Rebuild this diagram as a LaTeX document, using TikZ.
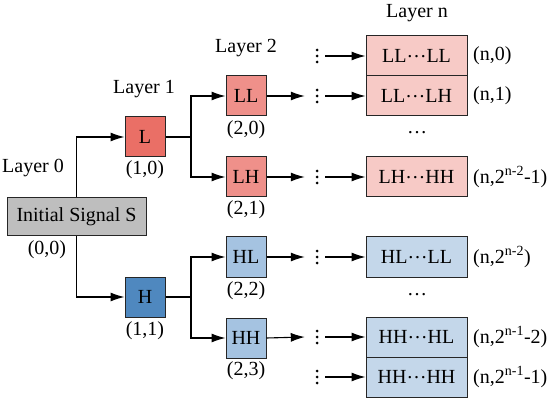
\documentclass[tikz,border=0pt]{standalone}
\usepackage{fontspec}
\setmainfont{Liberation Serif}
\usetikzlibrary{arrows.meta}
\definecolor{redD}{HTML}{EA6F66}
\definecolor{redM}{HTML}{EF908A}
\definecolor{redL}{HTML}{F7CAC6}
\definecolor{bluD}{HTML}{4F88BF}
\definecolor{bluM}{HTML}{A5C3E1}
\definecolor{bluL}{HTML}{C4D7EA}
\definecolor{grayS}{HTML}{BEBEBE}
\begin{document}
\begin{tikzpicture}[x=1pt,y=-1pt,
  font=\fontsize{20}{23}\selectfont,
  box/.style={draw=black!85, line width=1pt, inner sep=0pt, minimum width=40pt, minimum height=40pt},
  boxn/.style={box, minimum width=101pt},
  arr/.style={line width=1.1pt, -{Latex[length=14pt,width=9pt]}},
  ln/.style={line width=1.1pt},
  lbl/.style={inner sep=0pt},
  vdot/.style={minimum width=20pt, minimum height=18pt, inner sep=0pt,
    path picture={\foreach \dy in {-6,0,6} \fill ([xshift=2pt,yshift=\dy pt]path picture bounding box.center) circle (1.5pt);}}
]
\useasboundingbox (0,0) rectangle (550,404);

% boxes
\node[box, minimum width=139pt, minimum height=38pt, fill=grayS] (S) at (76.5,217) {Initial Signal S};
\node[box, fill=redD] (L) at (145,137) {L};
\node[box, fill=bluD] (H) at (145,297) {H};
\node[box, fill=redM] (LL) at (246,96) {LL};
\node[box, fill=redM] (LH) at (246,177) {LH};
\node[box, fill=bluM] (HL) at (246,257) {HL};
\node[box, fill=bluM] (HH) at (246,338) {HH};

\node[boxn, fill=redL] (n0) at (416.5,56) {LL\raisebox{0.25em}{…}LL};
\node[boxn, fill=redL] (n1) at (416.5,96) {LL\raisebox{0.25em}{…}LH};
\node[boxn, fill=redL] (nA) at (416.5,177) {LH\raisebox{0.25em}{…}HH};
\node[boxn, fill=bluL] (nB) at (416.5,257) {HL\raisebox{0.25em}{…}LL};
\node[boxn, fill=bluL] (nC) at (416.5,337) {HH\raisebox{0.25em}{…}HL};
\node[boxn, fill=bluL] (nD) at (416.5,377) {HH\raisebox{0.25em}{…}HH};

% vertical dots
\node[vdot] (v0) at (315,56) {};
\node[vdot] (v1) at (315,96) {};
\node[vdot] (v2) at (315,177) {};
\node[vdot] (v3) at (315,257) {};
\node[vdot] (v4) at (315,337) {};
\node[vdot] (v5) at (315,377) {};

% horizontal ellipses
\node[lbl] (e1) at (417,133) {…};
\node[lbl] (e2) at (417,295) {…};

% layer labels
\node[lbl] (t0) at (33,168) {Layer 0};
\node[lbl] (t1) at (144,89) {Layer 1};
\node[lbl] (t2) at (246,48) {Layer 2};
\node[lbl] (tn) at (417,13) {Layer n};

% index labels
\node[lbl] (i00) at (47,250) {(0,0)};
\node[lbl] (i10) at (145,170) {(1,0)};
\node[lbl] (i11) at (145,331) {(1,1)};
\node[lbl] (i20) at (246,130) {(2,0)};
\node[lbl] (i21) at (246,210) {(2,1)};
\node[lbl] (i22) at (246,291) {(2,2)};
\node[lbl] (i23) at (246,371) {(2,3)};
\node[lbl, anchor=west] (j0) at (473,56) {(n,0)};
\node[lbl, anchor=west] (j1) at (473,96) {(n,1)};
\node[lbl, anchor=west] (jA) at (473,177) {(n,2\textsuperscript{n-2}-1)};
\node[lbl, anchor=west] (jB) at (473,257) {(n,2\textsuperscript{n-2})};
\node[lbl, anchor=west] (jC) at (473,337) {(n,2\textsuperscript{n-1}-2)};
\node[lbl, anchor=west] (jD) at (473,377) {(n,2\textsuperscript{n-1}-1)};

% connectors
\draw[arr] (S.north) |- (L.west);
\draw[arr] (S.south) |- (H.west);
\coordinate (bL) at (191,137);
\coordinate (bH) at (191,297);
\draw[ln] (L.east) -- (bL);
\draw[arr] (bL) |- (LL.west);
\draw[arr] (bL) |- (LH.west);
\draw[ln] (H.east) -- (bH);
\draw[arr] (bH) |- (HL.west);
\draw[arr] (bH) |- (HH.west);

\draw[arr] (LL.east) -- (v1.west);
\draw[arr] (LH.east) -- (v2.west);
\draw[arr] (HL.east) -- (v3.west);
\draw[arr] (HH.east) -- (v4.west);

\draw[arr] (v0.east) -- (n0.west);
\draw[arr] (v1.east) -- (n1.west);
\draw[arr] (v2.east) -- (nA.west);
\draw[arr] (v3.east) -- (nB.west);
\draw[arr] (v4.east) -- (nC.west);
\draw[arr] (v5.east) -- (nD.west);
\end{tikzpicture}
\end{document}
